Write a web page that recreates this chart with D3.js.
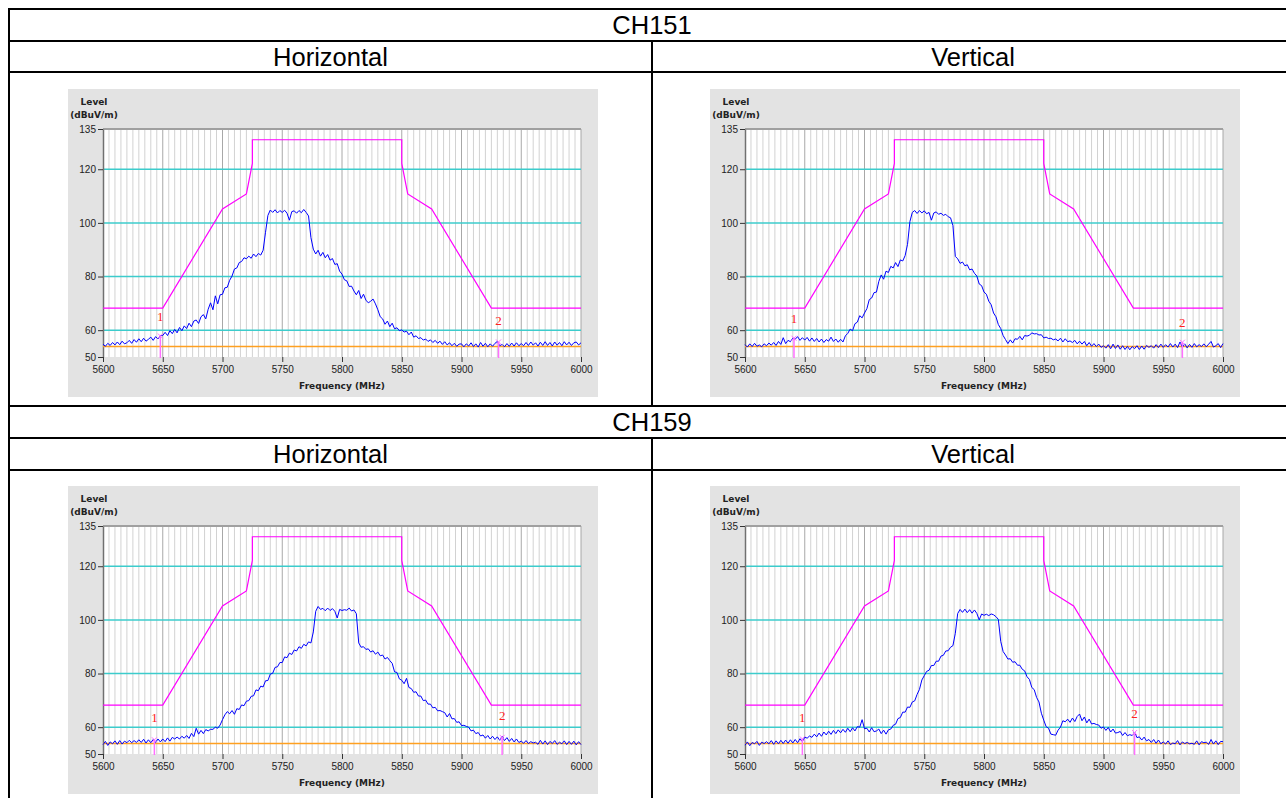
<!DOCTYPE html>
<html><head><meta charset="utf-8">
<script src="https://cdn.jsdelivr.net/npm/d3@7"></script>
<style>body{margin:0;background:#fff}svg{display:block}</style>
</head><body><svg id="c" width="1286" height="798"></svg>
<script>
// ---- data ----
const sweepStart = 5600, sweepStep = 2; // MHz, one reading every 2 MHz
const ch151H = [
54.8,54.0,55.1,54.3,55.4,54.5,55.6,54.6,55.9,54.9,55.3,56.2,55.1,56.5,55.5,56.8,55.7,57.0,55.9,56.6,57.4,56.2,57.6,56.7,58.0,
58.0,59.2,58.0,59.8,58.7,60.3,59.0,61.0,59.8,61.6,60.6,62.6,61.3,63.4,63.8,62.5,65.0,65.8,64.2,67.8,70.2,67.6,72.8,69.8,73.2,
73.4,75.8,76.0,78.6,80.2,82.8,83.2,85.2,85.6,87.0,86.6,87.6,86.8,88.4,87.4,88.6,88.0,89.8,96.5,102.8,104.8,103.9,104.9,103.7,104.6,
103.9,104.7,103.6,101.0,104.2,104.5,103.6,104.6,103.8,105.0,103.9,102.6,94.5,90.2,88.4,89.8,87.6,89.0,87.0,88.2,86.1,86.7,84.5,84.8,82.0,
80.9,78.8,78.4,76.3,76.4,74.6,73.2,74.8,71.8,73.4,71.2,70.2,70.8,71.6,69.8,67.6,65.0,64.2,62.2,63.4,61.3,62.6,60.5,60.9,59.8,
60.1,59.3,59.6,58.3,59.3,57.4,57.9,56.9,57.2,56.3,56.7,55.8,56.4,55.4,56.2,55.1,55.9,54.7,55.7,54.5,55.3,54.2,55.1,54.0,54.8,
54.9,53.8,54.9,54.1,55.3,53.9,54.9,53.7,55.4,54.0,55.1,53.8,54.9,54.0,55.1,55.8,54.2,54.7,53.8,55.0,54.0,55.2,54.1,55.3,54.2,
55.0,54.2,55.4,54.3,55.6,54.4,55.3,54.1,55.5,54.3,55.7,54.3,55.4,54.1,55.6,54.4,55.4,54.2,55.7,54.5,55.5,54.3,55.3,55.6,54.5,55.3];
const ch151V = [
54.6,53.7,54.9,53.9,55.1,54.0,54.5,53.8,54.9,54.2,55.2,54.4,55.4,54.3,55.8,54.7,57.2,55.0,56.2,55.7,57.0,56.6,57.6,56.2,57.2,
56.3,57.3,55.9,57.1,55.8,56.9,55.6,56.7,55.4,56.5,55.9,57.4,55.8,56.7,55.5,56.6,55.6,57.9,58.8,60.4,59.8,62.4,63.0,65.4,64.6,
66.4,68.0,71.4,72.0,74.0,74.2,78.2,80.6,79.0,82.0,81.5,83.8,83.2,85.2,83.7,86.2,85.8,87.8,92.0,100.5,103.9,104.6,103.5,104.6,103.7,
104.5,103.4,103.9,101.0,103.7,104.1,103.2,103.6,102.8,103.2,102.3,101.9,99.0,87.5,86.6,84.9,85.4,84.0,84.4,82.5,82.8,81.2,80.2,77.2,76.6,
74.2,73.4,70.8,69.5,66.4,65.0,62.1,60.6,58.0,56.5,55.0,56.4,55.2,56.8,56.6,57.7,56.4,58.0,57.8,58.1,59.0,58.6,58.7,58.2,58.3,
57.1,57.4,56.9,57.0,56.4,56.7,56.0,57.0,55.6,56.8,55.7,56.0,55.4,56.2,54.9,55.9,54.8,55.8,54.2,55.4,54.0,55.0,53.9,54.8,53.6,
54.2,53.3,54.6,53.1,54.8,53.2,54.5,52.9,54.2,52.8,54.0,52.7,53.9,53.1,54.2,52.8,54.1,52.9,54.3,53.6,54.2,53.3,54.6,53.5,54.8,
53.6,54.6,53.7,55.0,53.7,54.8,53.5,55.6,53.6,54.9,53.4,54.7,53.6,55.0,53.8,54.6,53.9,54.9,53.8,54.8,55.8,53.7,54.2,55.0,53.5,55.0];
const ch159H = [
53.5,54.7,53.2,54.5,53.8,54.9,53.6,55.0,53.7,54.8,54.2,55.1,54.2,55.0,54.3,55.3,54.3,55.5,54.1,55.3,54.2,55.4,54.3,55.6,54.5,
55.6,54.6,56.0,54.8,56.2,55.6,56.3,55.6,56.6,55.9,56.9,55.8,57.7,56.5,59.6,57.4,58.8,57.6,59.1,58.6,59.2,59.2,60.0,59.6,60.8,
62.8,64.6,65.8,65.0,66.2,64.8,66.9,66.6,68.3,68.0,69.7,69.9,71.5,71.7,73.9,73.6,75.3,75.0,77.3,77.4,79.8,80.1,82.3,82.5,84.1,
84.1,86.2,85.9,87.6,87.1,88.8,88.4,90.0,89.4,90.9,90.3,91.8,91.4,95.5,103.2,105.0,103.9,104.3,103.4,104.4,103.5,104.2,103.2,100.7,103.9,
103.5,103.8,103.6,104.4,103.3,103.7,102.3,91.4,89.8,90.0,89.0,89.2,88.0,88.5,87.2,88.0,86.6,86.9,85.4,86.0,84.8,83.8,80.6,80.4,78.0,
77.5,76.2,78.2,74.8,74.4,73.0,73.2,71.6,71.6,69.9,70.1,68.6,68.6,67.2,67.4,66.1,66.2,65.8,65.4,63.8,65.1,63.1,63.2,61.8,62.0,
60.6,60.7,60.3,60.0,58.6,58.9,57.6,58.0,56.7,57.1,55.9,56.9,55.6,56.6,55.4,56.4,55.1,56.7,55.0,56.1,54.7,55.8,54.5,55.6,54.3,
54.8,54.0,55.0,53.9,54.6,54.1,54.4,53.6,55.1,53.7,54.9,53.5,54.7,53.9,55.0,53.6,54.4,53.8,54.9,53.5,54.7,53.6,54.8,53.4,54.6,53.5];
const ch159V = [
53.3,54.5,53.1,54.3,53.8,54.7,53.2,54.4,53.9,54.6,53.8,55.0,53.6,54.9,53.8,55.1,53.9,55.2,54.0,55.3,54.1,55.4,54.2,55.7,54.6,
56.3,55.9,56.7,56.2,57.4,56.4,57.8,56.6,58.2,57.1,58.5,57.3,58.8,57.6,59.0,57.9,59.2,58.1,59.6,58.3,59.8,58.6,60.2,60.0,62.8,
59.4,59.6,58.2,59.8,58.3,58.6,59.3,57.6,58.9,57.4,59.0,59.3,60.7,61.1,63.2,63.6,65.6,65.6,67.5,67.4,69.4,69.8,72.2,74.1,77.6,
79.2,80.8,81.2,83.0,83.0,84.6,84.6,86.5,86.8,88.4,88.5,89.8,90.4,95.0,102.4,103.9,102.8,104.0,102.7,103.8,102.5,103.7,102.4,100.0,102.2,
101.7,102.1,101.6,102.2,101.9,101.2,100.2,92.0,88.2,86.9,85.4,85.5,84.2,84.4,83.1,83.1,81.6,81.0,78.8,77.8,74.8,74.0,71.1,69.4,65.2,
62.6,60.2,59.6,57.4,57.2,57.0,58.9,60.0,62.4,62.0,63.0,61.8,63.4,62.1,64.0,64.9,62.4,63.8,61.6,63.0,61.2,61.4,61.0,60.8,59.6,
60.1,58.8,59.9,58.2,59.3,57.8,58.0,58.4,56.9,58.0,56.8,57.2,56.9,58.2,56.1,56.4,55.2,56.3,54.9,55.4,54.3,55.4,54.0,55.2,53.8,
54.5,53.7,54.9,53.5,54.1,53.8,55.0,53.4,54.5,53.9,54.3,53.8,54.0,53.6,54.9,53.4,54.6,54.2,54.4,53.6,55.4,53.7,54.9,53.5,54.7,54.6];

// limit mask (dBuV/m)
const limitFreq  = [5600, 5650, 5700, 5720, 5725, 5725, 5850, 5850, 5855, 5875, 5925, 6000];
const limitLevel = [68.2, 68.2, 105.2, 110.8, 122.2, 131, 131, 122.2, 110.8, 105.2, 68.2, 68.2];
const refLevel = 53.9;
const yTicks = [50, 60, 80, 100, 120, 135];
const yGrid = [60, 80, 100, 120];
const xTicks = [5600, 5650, 5700, 5750, 5800, 5850, 5900, 5950, 6000];
// markers: number, frequency, level at marker, label level
const mk151H = {n:[1,2], f:[5648,5931], lv:[57.8,55.6], lab:[65.3,63.8]};
const mk151V = {n:[1,2], f:[5641,5966], lv:[57.0,55.5], lab:[64.5,63.0]};
const mk159H = {n:[1,2], f:[5643,5934], lv:[55.3,56.2], lab:[63.8,64.5]};
const mk159V = {n:[1,2], f:[5648,5926], lv:[55.6,58.0], lab:[63.8,65.3]};
const rowTitles = ["CH151", "CH159"];
const colTitles = ["Horizontal", "Vertical"];

// ---- drawing ----
const svg = d3.select("#c");
const T = svg.append("g");
const lineY = [9, 41, 72, 406, 438, 470];
lineY.forEach(y => T.append("line").attr("x1", 8).attr("x2", 1286).attr("y1", y).attr("y2", y));
T.append("line").attr("x1", 9).attr("x2", 9).attr("y1", 8).attr("y2", 798);
[[40, 407], [437, 798]].forEach(s => T.append("line").attr("x1", 652).attr("x2", 652).attr("y1", s[0]).attr("y2", s[1]));
T.selectAll("line").attr("stroke", "#000").attr("stroke-width", 2);

const hdrFont = "'Liberation Sans', Arial, sans-serif";
rowTitles.forEach((t, i) => {
  const yc = i === 0 ? 25 : 422;
  svg.append("text").attr("x", 652).attr("y", yc).attr("dy", "0.36em").attr("text-anchor", "middle")
    .attr("font-family", hdrFont).attr("font-size", 25.5).attr("fill", "#000").text(t);
  colTitles.forEach((c, j) => {
    svg.append("text").attr("x", j === 0 ? 330.5 : 973).attr("y", i === 0 ? 57 : 454).attr("dy", "0.36em")
      .attr("text-anchor", "middle").attr("font-family", hdrFont).attr("font-size", 25.5).attr("fill", "#000").text(c);
  });
});

function drawPanel(gx, gy, trace, mk) {
  const g = svg.append("g");
  g.append("rect").attr("x", gx).attr("y", gy).attr("width", 530).attr("height", 308).attr("fill", "#e3e3e3");
  const x0 = gx + 35, x1 = gx + 513, y0 = gy + 40, y1 = gy + 268;
  const x = d3.scaleLinear().domain([5600, 6000]).range([x0, x1]);
  const y = d3.scaleLinear().domain([50, 135]).range([y1, y0]);
  g.append("rect").attr("x", x0).attr("y", y0).attr("width", x1 - x0).attr("height", y1 - y0).attr("fill", "#fff");
  const minor = d3.range(5605, 6001, 5).filter(f => f % 50 !== 0);
  g.selectAll(".mn").data(minor).join("line").attr("x1", d => x(d)).attr("x2", d => x(d))
    .attr("y1", y0).attr("y2", y1).attr("stroke", "#d2d2d2").attr("stroke-width", 1);
  g.selectAll(".mj").data(xTicks.slice(1)).join("line").attr("x1", d => x(d)).attr("x2", d => x(d))
    .attr("y1", y0).attr("y2", y1).attr("stroke", "#a8a8a8").attr("stroke-width", 1);
  g.selectAll(".hg").data(yGrid).join("line").attr("x1", x0).attr("x2", x1).attr("y1", d => y(d)).attr("y2", d => y(d))
    .attr("stroke", "#3ccccc").attr("stroke-width", 1.5);
  g.append("line").attr("x1", x0).attr("x2", x1).attr("y1", y0).attr("y2", y0).attr("stroke", "#a0a0a0").attr("stroke-width", 2);

  // axes
  const ya = g.append("g").attr("transform", `translate(${x0},0)`)
    .call(d3.axisLeft(y).tickValues(yTicks).tickSize(5).tickSizeOuter(0).tickPadding(2));
  ya.select(".domain").attr("stroke", "#707070").attr("stroke-width", 1.5);
  ya.selectAll(".tick line").attr("stroke", "#333");
  ya.selectAll("text").attr("font-family", "'Liberation Sans', Arial, sans-serif").attr("font-size", 10).attr("fill", "#222");
  const xa = g.append("g").attr("transform", `translate(0,${y1})`)
    .call(d3.axisBottom(x).tickValues(xTicks).tickSize(5).tickSizeOuter(0).tickPadding(4).tickFormat(d3.format("d")));
  xa.select(".domain").remove();
  xa.selectAll(".tick line").attr("stroke", "#333");
  xa.selectAll("text").attr("font-family", "'Liberation Sans', Arial, sans-serif").attr("font-size", 10).attr("fill", "#222");

  g.append("text").attr("x", gx + 26).attr("y", gy + 16).attr("text-anchor", "middle").attr("font-family", "'DejaVu Sans'")
    .attr("font-weight", "bold").attr("font-size", 9).attr("fill", "#222").text("Level");
  g.append("text").attr("x", gx + 26).attr("y", gy + 29).attr("text-anchor", "middle").attr("font-family", "'DejaVu Sans'")
    .attr("font-weight", "bold").attr("font-size", 9).attr("fill", "#222").text("(dBuV/m)");
  g.append("text").attr("x", (x0 + x1) / 2).attr("y", gy + 300).attr("text-anchor", "middle").attr("font-family", "'DejaVu Sans'")
    .attr("font-weight", "bold").attr("font-size", 9).attr("fill", "#222").text("Frequency (MHz)");

  // reference line
  g.append("line").attr("x1", x0).attr("x2", x1).attr("y1", y(refLevel)).attr("y2", y(refLevel))
    .attr("stroke", "#ffa020").attr("stroke-width", 1.4);
  // limit
  const lim = limitFreq.map((f, i) => [f, limitLevel[i]]);
  g.append("path").attr("d", d3.line().x(d => x(d[0])).y(d => y(d[1]))(lim))
    .attr("fill", "none").attr("stroke", "#ff00ff").attr("stroke-width", 1.2);
  // trace
  const pts = trace.map((v, i) => [sweepStart + i * sweepStep, v]);
  g.append("path").attr("d", d3.line().x(d => x(d[0])).y(d => y(d[1]))(pts))
    .attr("fill", "none").attr("stroke", "#0000ff").attr("stroke-width", 1);
  // markers
  mk.n.forEach((n, i) => {
    const mx = x(mk.f[i]), my = y(mk.lv[i]);
    g.append("line").attr("x1", mx).attr("x2", mx).attr("y1", my).attr("y2", y1 + 1)
      .attr("stroke", "#ff70ff").attr("stroke-width", 1.5);
    g.append("path").attr("d", `M${mx - 2.5},${my - 2.5}L${mx + 2.5},${my + 2.5}M${mx - 2.5},${my + 2.5}L${mx + 2.5},${my - 2.5}`)
      .attr("stroke", "#ff70ff").attr("stroke-width", 1);
    g.append("text").attr("x", mx).attr("y", y(mk.lab[i])).attr("dy", "0.35em").attr("text-anchor", "middle")
      .attr("font-family", "'Liberation Serif', 'Times New Roman', serif").attr("font-size", 13).attr("fill", "#ff2020").text(n);
  });
}

drawPanel(68, 89, ch151H, mk151H);
drawPanel(710, 89, ch151V, mk151V);
drawPanel(68, 486, ch159H, mk159H);
drawPanel(710, 486, ch159V, mk159V);
</script></body></html>
